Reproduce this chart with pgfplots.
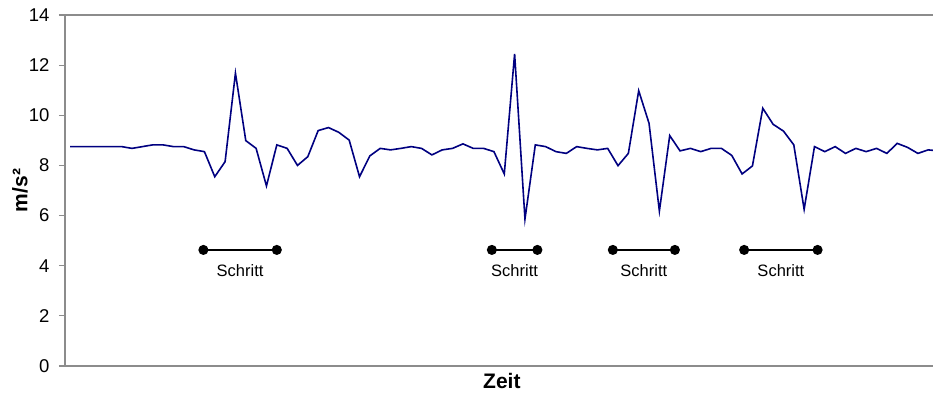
\documentclass[border=0pt]{standalone}
\usepackage{pgfplots}
\pgfplotsset{compat=1.18}
\usepackage{fontspec}
\setmainfont{Liberation Sans}
\definecolor{navyline}{RGB}{0,0,128}
\definecolor{axgray}{RGB}{140,140,140}
\begin{document}
\begin{tikzpicture}
\begin{axis}[
  at={(0pt,0pt)}, anchor=south west,
  scale only axis,
  width=872pt, height=351pt,
  xmin=-0.484, xmax=83.85,
  ymin=0, ymax=14,
  ytick={0,2,...,14},
  xtick=\empty,
  ytick pos=left,
  tick align=outside,
  major tick length=6pt,
  axis line style={axgray, line width=1.4pt},
  every tick/.style={axgray, line width=1.2pt},
  /pgf/number format/assume math mode=true,
  yticklabel style={font=\fontsize{18.5}{20}\selectfont, anchor=east, xshift=-6pt},
  xlabel={\textbf{Zeit}},
  ylabel={\textbf{m/s²}},
  xlabel style={at={(axis description cs:0.501,-0.0413)}, anchor=center, font=\fontsize{21}{24}\selectfont},
  ylabel style={at={(axis description cs:-0.0516,0.5)}, anchor=center, font=\fontsize{21}{24}\selectfont},
  clip=true,
]
\addplot[navyline, line width=1.6pt] coordinates {
(0,8.75) (1,8.75) (2,8.75) (3,8.75) (4,8.75) (5,8.75) (6,8.68) (7,8.75) (8,8.82) (9,8.82)
(10,8.75) (11,8.75) (12,8.62) (13,8.55) (14,7.55) (15,8.15) (16,11.68) (17,8.99) (18,8.68) (19,7.18)
(20,8.82) (21,8.68) (22,8.00) (23,8.35) (24,9.39) (25,9.51) (26,9.32) (27,9.01) (28,7.55) (29,8.38)
(30,8.68) (31,8.62) (32,8.68) (33,8.75) (34,8.68) (35,8.42) (36,8.62) (37,8.68) (38,8.86) (39,8.68)
(40,8.68) (41,8.55) (42,7.66) (43,12.45) (44,5.86) (45,8.82) (46,8.75) (47,8.55) (48,8.48) (49,8.75)
(50,8.68) (51,8.62) (52,8.68) (53,7.99) (54,8.48) (55,10.98) (56,9.68) (57,6.18) (58,9.19) (59,8.58)
(60,8.68) (61,8.55) (62,8.68) (63,8.68) (64,8.40) (65,7.66) (66,7.98) (67,10.28) (68,9.64) (69,9.37)
(70,8.82) (71,6.25) (72,8.75) (73,8.55) (74,8.75) (75,8.48) (76,8.68) (77,8.55) (78,8.68) (79,8.48)
(80,8.88) (81,8.72) (82,8.48) (83,8.62) (84,8.58)
};
\addplot[black, line width=1.4pt, mark=*, mark size=4.3pt] coordinates {(12.9,4.63) (20.0,4.63)};
\addplot[black, line width=1.4pt, mark=*, mark size=4.3pt] coordinates {(40.8,4.63) (45.2,4.63)};
\addplot[black, line width=1.4pt, mark=*, mark size=4.3pt] coordinates {(52.5,4.63) (58.5,4.63)};
\addplot[black, line width=1.4pt, mark=*, mark size=4.3pt] coordinates {(65.2,4.63) (72.3,4.63)};
\node[font=\fontsize{16.5}{18}\selectfont] at (axis cs:16.45,3.81) {Schritt};
\node[font=\fontsize{16.5}{18}\selectfont] at (axis cs:43.0,3.81) {Schritt};
\node[font=\fontsize{16.5}{18}\selectfont] at (axis cs:55.5,3.81) {Schritt};
\node[font=\fontsize{16.5}{18}\selectfont] at (axis cs:68.75,3.81) {Schritt};
\end{axis}
\pgfresetboundingbox
\path[use as bounding box] (-65pt,-28pt) rectangle (868pt,366pt);
\end{tikzpicture}
\end{document}
